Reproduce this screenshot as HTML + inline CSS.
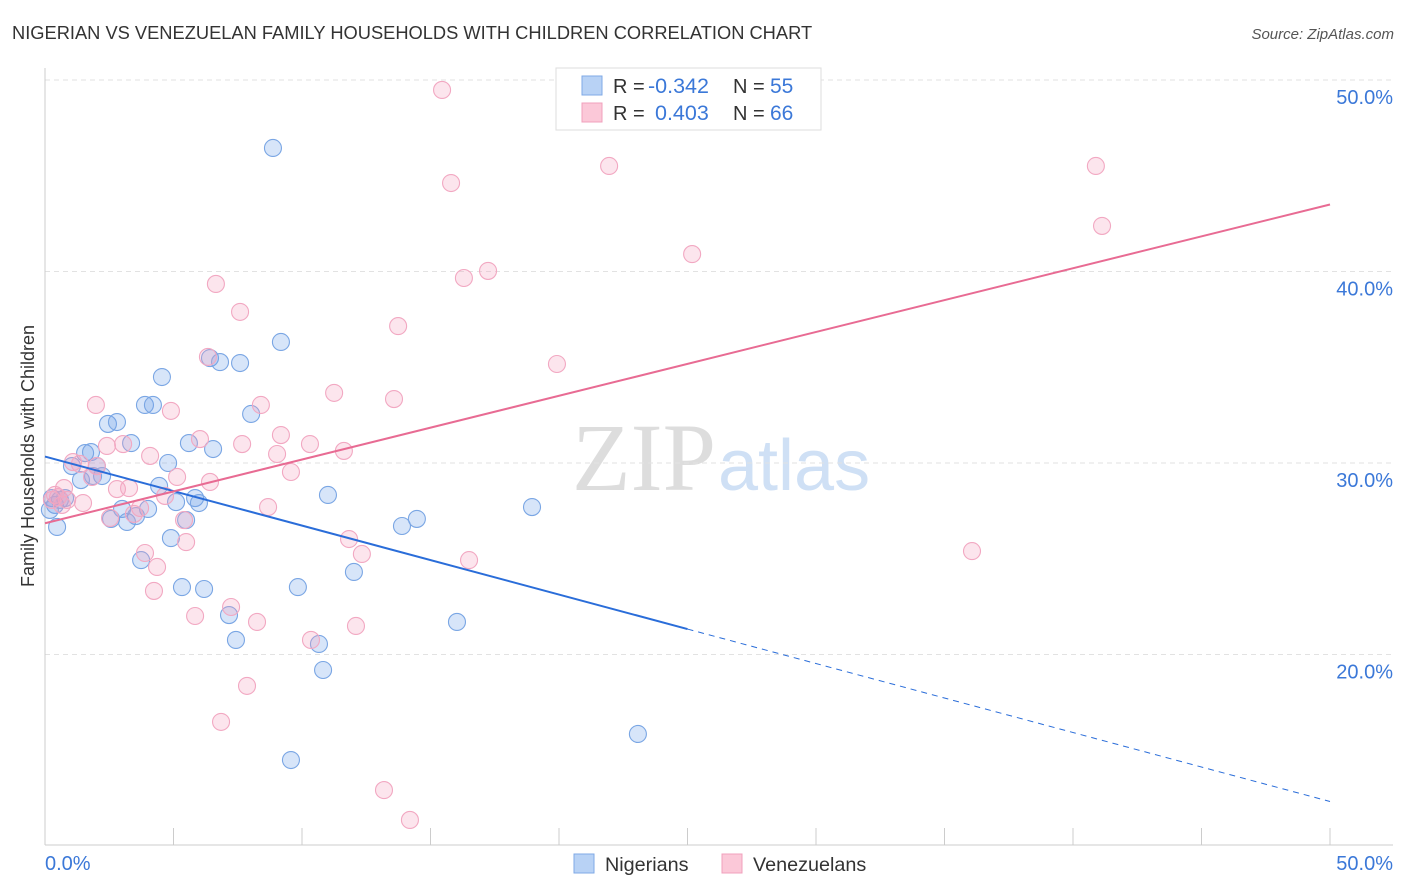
<!DOCTYPE html>
<html><head><meta charset="utf-8"><style>
body{margin:0;background:#fff;font-family:"Liberation Sans",sans-serif}
</style></head><body>
<svg id="c" width="1406" height="892" style="display:block">
<text x="12" y="39" font-size="18.3" fill="#333">NIGERIAN VS VENEZUELAN FAMILY HOUSEHOLDS WITH CHILDREN CORRELATION CHART</text>
<text x="1394" y="39" font-size="15" fill="#555" text-anchor="end" font-style="italic">Source: ZipAtlas.com</text>
<text x="716" y="490" font-size="96" fill="#ddd" font-family="Liberation Serif" text-anchor="end">ZIP</text>
<text x="718" y="490" font-size="72" fill="#cfe0f5">atlas</text>
<g id="grid"></g>
<g id="axes"></g>
<g id="pts"></g>
<g id="lines"></g>
<text transform="translate(34,456) rotate(-90)" font-size="18" fill="#333" text-anchor="middle">Family Households with Children</text>
<text x="45" y="870" font-size="20" fill="#3b78d8">0.0%</text>
<text x="1393" y="870" font-size="20" fill="#3b78d8" text-anchor="end">50.0%</text>
<g>
<rect x="556" y="68" width="265" height="62" fill="#fff" stroke="#ddd"/>
<rect x="582" y="76" width="20" height="19" fill="#b8d2f5" stroke="#7fa9e6"/>
<rect x="582" y="103" width="20" height="19" fill="#fbc8d8" stroke="#f0a0bc"/>
<text x="613" y="93" font-size="20" fill="#333">R = <tspan fill="#3b78d8" x="648" font-size="21.5">-0.342</tspan><tspan x="733">N = </tspan><tspan fill="#3b78d8" x="770" font-size="21">55</tspan></text>
<text x="613" y="120" font-size="20" fill="#333">R = <tspan fill="#3b78d8" x="655" font-size="21.5">0.403</tspan><tspan x="733">N = </tspan><tspan fill="#3b78d8" x="770" font-size="21">66</tspan></text>
</g>
<g>
<rect x="574" y="854" width="20" height="19" fill="#b8d2f5" stroke="#7fa9e6"/>
<text x="605" y="871" font-size="19.8" fill="#333">Nigerians</text>
<rect x="722" y="854" width="20" height="19" fill="#fbc8d8" stroke="#f0a0bc"/>
<text x="753" y="871" font-size="19.8" fill="#333">Venezuelans</text>
</g>
</svg>
<script>
const yTicks=[20,30,40,50];
const xTickCount=10;
const nigX=[8.87,9.18,6.42,6.81,7.59,4.55,3.89,4.20,8.02,2.45,2.80,3.35,5.60,6.54,1.56,1.79,1.05,2.02,4.79,2.22,1.40,1.87,4.44,11.01,5.84,5.10,5.99,3.00,4.01,3.54,2.57,3.19,5.49,18.95,14.47,13.89,4.90,3.74,12.02,5.33,6.19,9.84,7.16,16.03,7.43,10.66,10.82,23.07,9.57,0.47,0.39,0.27,0.58,0.78,0.19];
const nigY=[46.45,36.32,35.48,35.27,35.22,34.49,33.03,33.03,32.56,32.04,32.14,31.04,31.04,30.73,30.52,30.57,29.84,29.84,30.0,29.32,29.11,29.32,28.80,28.33,28.17,27.96,27.91,27.60,27.60,27.23,27.08,26.92,27.02,27.70,27.08,26.71,26.08,24.93,24.31,23.52,23.42,23.52,22.06,21.70,20.76,20.55,19.19,15.85,14.49,26.66,27.81,28.17,28.07,28.17,27.55];
const venX=[15.45,15.80,21.95,40.89,41.13,25.18,16.30,17.24,6.65,7.59,13.74,6.34,19.92,11.25,13.58,1.98,4.90,8.40,6.03,9.18,2.41,3.04,7.67,10.31,11.63,4.09,9.03,1.36,9.57,5.14,6.42,2.80,3.27,0.74,4.67,1.48,8.68,3.70,5.41,5.49,11.83,12.33,3.89,4.36,36.07,16.50,4.24,7.24,5.84,8.25,12.10,10.35,7.86,6.85,13.19,14.20,0.51,0.86,0.39,0.66,2.53,3.46,1.09,1.83,2.02,0.27];
const venY=[49.48,44.62,45.51,45.51,42.38,40.91,39.66,40.03,39.35,37.89,37.15,35.54,35.17,33.66,33.34,33.03,32.72,33.03,31.25,31.46,30.89,30.99,30.99,30.99,30.63,30.37,30.47,29.95,29.53,29.27,29.01,28.64,28.69,28.69,28.28,27.91,27.70,27.65,27.02,25.87,26.03,25.25,25.30,24.57,25.40,24.93,23.32,22.48,22.01,21.70,21.49,20.76,18.36,16.48,12.92,11.36,28.22,28.07,28.33,27.81,27.13,27.34,30.05,29.27,29.84,28.07];
const NS='http://www.w3.org/2000/svg';
const X=v=>45+v*25.7, Y=v=>80+(50-v)*19.15;
function mk(t,a,p){const e=document.createElementNS(NS,t);for(const k in a)e.setAttribute(k,a[k]);document.getElementById(p).appendChild(e);return e;}
const topGrid=mk('line',{x1:45,x2:1393,y1:80,y2:80,stroke:'#ddd','stroke-dasharray':'5,4'},'grid');


yTicks.forEach(t=>{
 const g=mk('line',{x1:45,x2:1393,y1:Y(t),y2:Y(t),stroke:'#e2e2e2','stroke-dasharray':'5,4'},'grid');
 
 
 const l=mk('text',{x:1393,y:Y(t)+24,'font-size':20,fill:'#3b78d8','text-anchor':'end'},'grid');
 l.textContent=t.toFixed(1)+'%';
 
 
});
const ya=mk('line',{x1:45,x2:45,y1:68,y2:845,stroke:'#ccc'},'axes');


const xa=mk('line',{x1:45,x2:1393,y1:845,y2:845,stroke:'#ccc'},'axes');


for(let i=0;i<=xTickCount;i++){const v=i*50/xTickCount;
 const t=mk('line',{x1:X(v),x2:X(v),y1:828,y2:845,stroke:'#ccc'},'axes');
 
 }
function pts(xs,ys,fill,stroke,name){xs.forEach((x,i)=>{
 const c=mk('circle',{cx:X(x),cy:Y(ys[i]),r:8.5,fill:fill,stroke:stroke,'stroke-width':1.1},'pts');
 
 });}
pts(nigX,nigY,'rgba(110,160,235,0.28)','#7aa6e4','nigerian-point');
pts(venX,venY,'rgba(245,160,190,0.28)','#f2a8c2','venezuelan-point');
function fit(xs,ys){const n=xs.length;let mx=0,my=0;xs.forEach((x,i)=>{mx+=x;my+=ys[i]});mx/=n;my/=n;let sxy=0,sxx=0;xs.forEach((x,i)=>{sxy+=(x-mx)*(ys[i]-my);sxx+=(x-mx)**2});const b=sxy/sxx;return[my-b*mx,b];}
const [ba,bb]=fit(nigX,nigY);
const xEndN=Math.ceil(Math.max(...nigX)/5)*5;
const l1=mk('line',{x1:X(0),y1:Y(ba),x2:X(xEndN),y2:Y(ba+bb*xEndN),stroke:'#2a6dd9','stroke-width':2},'lines');


const l2=mk('line',{x1:X(xEndN),y1:Y(ba+bb*xEndN),x2:X(50),y2:Y(ba+bb*50),stroke:'#2a6dd9','stroke-width':1,'stroke-dasharray':'6,5'},'lines');


const [pa,pb]=fit(venX,venY);
const l3=mk('line',{x1:X(0),y1:Y(pa),x2:X(50),y2:Y(pa+pb*50),stroke:'#e86b93','stroke-width':2},'lines');


</script>
</body></html>
